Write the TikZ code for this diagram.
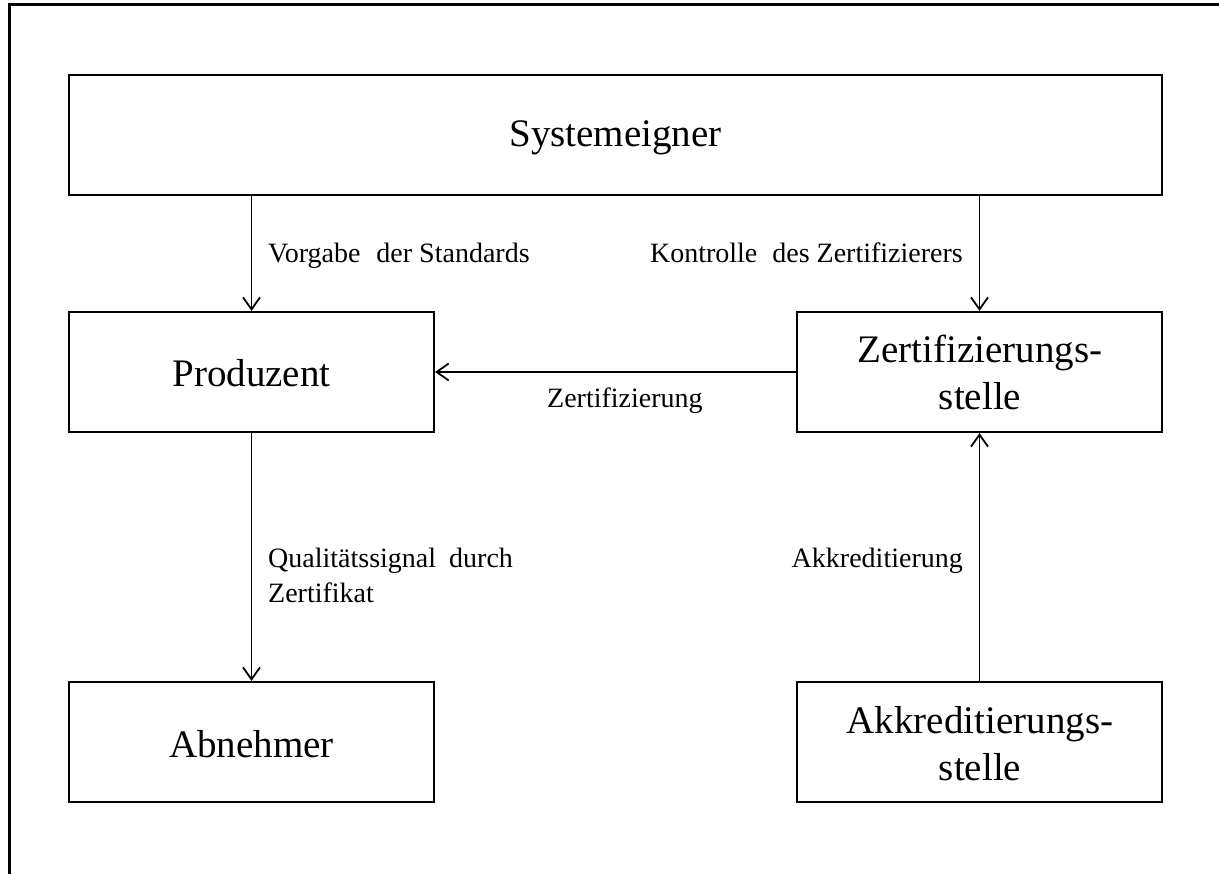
\documentclass[tikz,border=0pt]{standalone}
\usepackage{fontspec}
\setmainfont{Liberation Serif}
\usetikzlibrary{arrows.meta}

\tikzset{
  box/.style={draw, line width=2.2pt, rectangle, inner sep=0pt,
              minimum width=365pt, minimum height=120pt},
  boxtext/.style={anchor=base, inner sep=0pt, font=\fontsize{39}{47}\selectfont},
  lbl/.style={inner sep=0pt, font=\fontsize{28}{35}\selectfont},
  flow/.style={line width=1.8pt, -{Straight Barb[length=12pt, width=17pt, line width=1.8pt]}},
  frame/.style={line width=3pt}
}

\begin{document}
\begin{tikzpicture}[x=1pt, y=-1pt]
  \useasboundingbox (0,0) rectangle (1219,874);

  % outer frame (top and left edges)
  \coordinate (fA) at (9.5,874);
  \coordinate (fB) at (9.5,5);
  \coordinate (fC) at (1219,5);
  \draw[frame] (fA) -- (fB) -- (fC);

  % boxes
  \node[box, minimum width=1093pt] (sys) at (615.5,135) {};
  \node[box] (prod) at (251.5,372) {};
  \node[box] (zert) at (979.5,372) {};
  \node[box] (abn)  at (251.5,742) {};
  \node[box] (akk)  at (979.5,742) {};

  % box captions
  \node[boxtext] (sysT)   at (615.5,147) {Systemeigner};
  \node[boxtext] (prodT)  at (251.5,387) {Produzent};
  \node[boxtext] (zertT1) at (980,363) {Zertifizierungs-};
  \node[boxtext] (zertT2) at (980,410) {stelle};
  \node[boxtext] (abnT)   at (251.5,757) {Abnehmer};
  \node[boxtext] (akkT1)  at (980,733) {Akkreditierungs-};
  \node[boxtext] (akkT2)  at (980,780) {stelle};

  % connectors
  \draw[flow] (prod.north |- sys.south) -- (prod.north);
  \draw[flow] (zert.north |- sys.south) -- (zert.north);
  \draw[flow] (zert.west) -- (prod.east);
  \draw[flow] (prod.south) -- (abn.north);
  \draw[flow] (akk.north) -- (zert.south);

  % connector labels
  \node[lbl, anchor=base west] (lVor)  at (268,263) {Vorgabe\hspace{9pt} der Standards};
  \node[lbl, anchor=base east] (lKon)  at (963,263) {Kontrolle\hspace{8pt} des Zertifizierers};
  \node[lbl, anchor=base west] (lZer)  at (547,408) {Zertifizierung};
  \node[lbl, anchor=base west] (lQua1) at (268,567) {Qualitätssignal\hspace{6pt} durch};
  \node[lbl, anchor=base west] (lQua2) at (268,602) {Zertifikat};
  \node[lbl, anchor=base east] (lAkk)  at (963,567) {Akkreditierung};
\end{tikzpicture}
\end{document}
